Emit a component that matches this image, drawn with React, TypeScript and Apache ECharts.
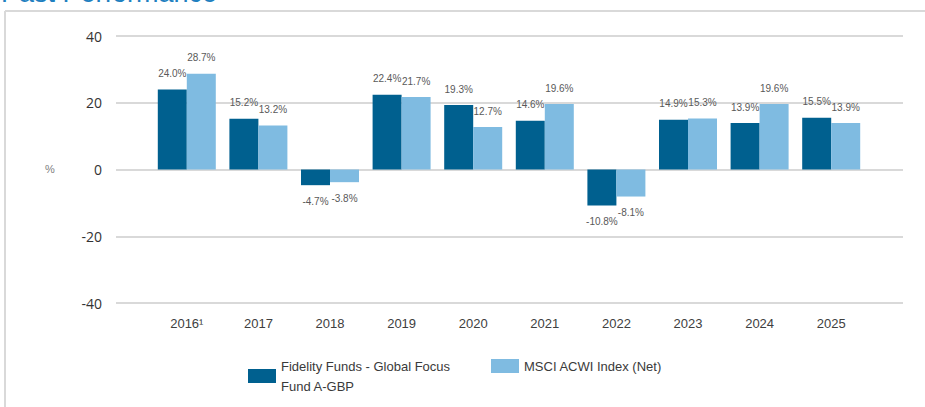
import React, { useEffect, useRef } from 'react';
import * as echarts from 'echarts';

const years = ['2016¹', '2017', '2018', '2019', '2020', '2021', '2022', '2023', '2024', '2025'];
const fundValues = [24.0, 15.2, -4.7, 22.4, 19.3, 14.6, -10.8, 14.9, 13.9, 15.5];
const indexValues = [28.7, 13.2, -3.8, 21.7, 12.7, 19.6, -8.1, 15.3, 19.6, 13.9];
const yMin = -40;
const yMax = 40;
const yInterval = 20;

const FUND_NAME = 'Fidelity Funds - Global Focus\nFund A-GBP';
const INDEX_NAME = 'MSCI ACWI Index (Net)';
const TITLE = 'Past Performance';

const DARK = '#00608f';
const LIGHT = '#7fbbe1';
const FONT = '"Liberation Sans", Arial, sans-serif';

const toData = (vals: number[]) =>
  vals.map((v) => ({ value: v, label: { position: v < 0 ? 'bottom' : 'top' } }));

export default function App() {
  const ref = useRef<HTMLDivElement>(null);

  useEffect(() => {
    if (!ref.current) return;
    const chart = echarts.init(ref.current, null, { renderer: 'svg' });
    const labelCfg = {
      show: true,
      distance: 11,
      fontSize: 10,
      fontFamily: FONT,
      color: '#595959',
      formatter: (p: any) => `${Number(p.value).toFixed(1)}%`,
    };
    const legendBase = {
      top: 356,
      orient: 'horizontal',
      icon: 'rect',
      itemWidth: 28,
      itemHeight: 14,
      itemGap: 21,
      padding: 0,
      textStyle: { fontSize: 13, fontFamily: FONT, color: '#3a3a3a', lineHeight: 20 },
    };
    chart.setOption({
      animation: false,
      backgroundColor: '#ffffff',
      grid: [
        { left: 116, right: 22, top: 36, bottom: 104 },
        { left: 151, right: 58, top: 36, bottom: 104 },
      ],
      xAxis: [
        { gridIndex: 0, type: 'category', data: years, show: false },
        {
          gridIndex: 1,
          type: 'category',
          data: years,
          position: 'bottom',
          axisLine: { show: false, onZero: false },
          axisTick: { show: false },
          axisLabel: { fontSize: 13, fontFamily: FONT, color: '#404040', margin: 14 },
          splitLine: { show: false },
        },
      ],
      yAxis: [
        {
          gridIndex: 0,
          type: 'value',
          min: yMin,
          max: yMax,
          interval: yInterval,
          axisLine: { show: false },
          axisTick: { show: false },
          axisLabel: { fontSize: 14, fontFamily: '"Open Sans", sans-serif', color: '#333333', margin: 14 },
          splitLine: { lineStyle: { color: '#d9d9d9', width: 2 } },
        },
        {
          gridIndex: 1,
          type: 'value',
          min: yMin,
          max: yMax,
          interval: yInterval,
          show: false,
          splitLine: { show: false },
        },
      ],
      legend: [
        { ...legendBase, data: [FUND_NAME], left: 248 },
        { ...legendBase, data: [INDEX_NAME], left: 491 },
      ],
      series: [
        {
          name: FUND_NAME,
          type: 'bar',
          xAxisIndex: 1,
          yAxisIndex: 1,
          data: toData(fundValues),
          barWidth: 29,
          barGap: '0%',
          itemStyle: { color: DARK },
          label: labelCfg,
        },
        {
          name: INDEX_NAME,
          type: 'bar',
          xAxisIndex: 1,
          yAxisIndex: 1,
          data: toData(indexValues),
          barWidth: 29,
          barGap: '0%',
          itemStyle: { color: LIGHT },
          label: labelCfg,
        },
      ],
      graphic: [
        {
          type: 'line',
          shape: { x1: 5, y1: 11, x2: 925, y2: 11 },
          style: { stroke: '#d9d9d9', lineWidth: 2 },
          silent: true,
        },
        {
          type: 'line',
          shape: { x1: 5, y1: 11, x2: 5, y2: 407 },
          style: { stroke: '#d9d9d9', lineWidth: 2 },
          silent: true,
        },
        {
          type: 'text',
          x: 1,
          y: 6,
          style: {
            text: TITLE,
            fontSize: 27,
            fontFamily: FONT,
            fill: '#1f80c0',
            verticalAlign: 'bottom',
            align: 'left',
          },
          silent: true,
        },
        {
          type: 'text',
          x: 50,
          y: 169,
          style: {
            text: '%',
            fontSize: 11,
            fontFamily: FONT,
            fill: '#808080',
            verticalAlign: 'middle',
            align: 'center',
          },
          silent: true,
        },
      ],
    });
    return () => chart.dispose();
  }, []);

  return (
    <div
      ref={ref}
      style={{ position: 'fixed', left: 0, top: 0, width: 925, height: 407 }}
    />
  );
}
